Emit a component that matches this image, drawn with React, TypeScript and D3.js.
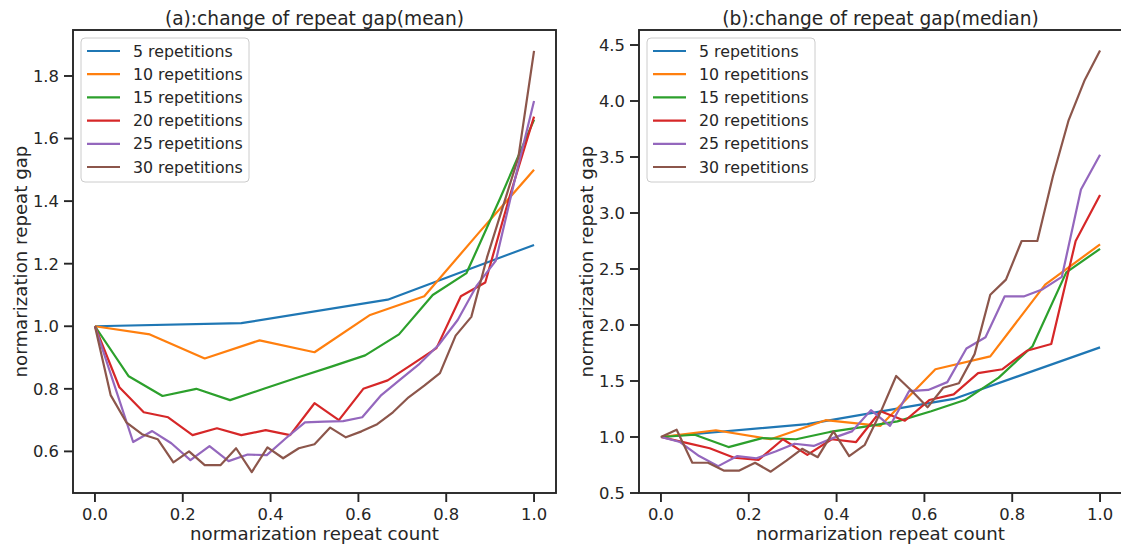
import * as d3 from "d3";
import { useEffect } from "react";

// series labels + colours (matplotlib tab10)
const seriesNames = ["5 repetitions", "10 repetitions", "15 repetitions", "20 repetitions", "25 repetitions", "30 repetitions"];
const seriesColors = ["#1f77b4", "#ff7f0e", "#2ca02c", "#d62728", "#9467bd", "#8c564b"];

// (a) mean repeat gap
const meanRep5 = [1.0, 1.01, 1.085, 1.26];
const meanRep10 = [1.0, 0.974, 0.897, 0.955, 0.917, 1.035, 1.096, 1.3, 1.5];
const meanRep15 = [1.0, 0.84, 0.777, 0.8, 0.764, 0.8, 0.836, 0.871, 0.907, 0.974, 1.1, 1.17, 1.41, 1.66];
const meanRep20 = [1.0, 0.805, 0.725, 0.709, 0.652, 0.674, 0.652, 0.668, 0.652, 0.754, 0.7, 0.8, 0.827, 0.878, 0.93, 1.096, 1.14, 1.415, 1.67];
const meanRep25 = [1.0, 0.815, 0.63, 0.665, 0.626, 0.572, 0.617, 0.569, 0.59, 0.588, 0.642, 0.693, 0.695, 0.697, 0.709, 0.78, 0.83, 0.88, 0.94, 1.02, 1.13, 1.21, 1.47, 1.72];
const meanRep30 = [1.0, 0.78, 0.693, 0.655, 0.639, 0.565, 0.6, 0.556, 0.556, 0.61, 0.534, 0.613, 0.578, 0.61, 0.623, 0.676, 0.645, 0.664, 0.687, 0.725, 0.773, 0.81, 0.85, 0.97, 1.03, 1.22, 1.38, 1.54, 1.88];

// (b) median repeat gap
const medRep5 = [1.0, 1.115, 1.34, 1.8];
const medRep10 = [1.0, 1.06, 0.98, 1.15, 1.1, 1.605, 1.72, 2.36, 2.72];
const medRep15 = [1.0, 1.02, 0.91, 0.99, 0.98, 1.045, 1.09, 1.14, 1.23, 1.33, 1.53, 1.81, 2.47, 2.68];
const medRep20 = [1.0, 0.95, 0.9, 0.815, 0.795, 0.98, 0.84, 0.98, 0.955, 1.23, 1.145, 1.33, 1.38, 1.57, 1.605, 1.77, 1.83, 2.75, 3.16];
const medRep25 = [1.0, 0.955, 0.83, 0.74, 0.83, 0.81, 0.87, 0.94, 0.92, 0.99, 1.05, 1.24, 1.1, 1.41, 1.42, 1.49, 1.79, 1.89, 2.255, 2.255, 2.32, 2.43, 3.21, 3.52];
const medRep30 = [1.0, 1.065, 0.77, 0.77, 0.7, 0.7, 0.77, 0.69, 0.79, 0.895, 0.82, 1.05, 0.83, 0.93, 1.22, 1.545, 1.41, 1.265, 1.44, 1.48, 1.74, 2.27, 2.405, 2.75, 2.75, 3.33, 3.83, 4.18, 4.45];

const xTicks = [0, 0.2, 0.4, 0.6, 0.8, 1.0];
const meanYTicks = [0.6, 0.8, 1.0, 1.2, 1.4, 1.6, 1.8];
const medYTicks = [0.5, 1.0, 1.5, 2.0, 2.5, 3.0, 3.5, 4.0, 4.5];

const FONT = "DejaVu Sans, sans-serif";

// x is the normalized repeat count: index / (points - 1)
function toPoints(values) {
  return values.map((v, i) => [i / (values.length - 1), v]);
}

function Panel({ left, right, top, bottom, yDomain, yTicks, title, series }) {
  const x = d3.scaleLinear().domain([-0.05, 1.05]).range([left, right]);
  const y = d3.scaleLinear().domain(yDomain).range([bottom, top]);
  const line = d3
    .line()
    .x((d) => x(d[0]))
    .y((d) => y(d[1]));
  const fmt = d3.format(".1f");
  const rowH = 23.2;

  return (
    <g fontFamily={FONT} fill="#262626">
      <text x={(left + right) / 2} y={24.5} textAnchor="middle" fontSize={18.6}>
        {title}
      </text>

      <g clipPath={undefined}>
        {series.map((vals, k) => (
          <path
            key={seriesNames[k]}
            d={line(toPoints(vals))}
            fill="none"
            stroke={seriesColors[k]}
            strokeWidth={2.2}
            strokeLinejoin="round"
          />
        ))}
      </g>

      {/* x axis */}
      {xTicks.map((t) => (
        <g key={`x${t}`}>
          <line x1={x(t)} x2={x(t)} y1={bottom} y2={bottom + 9} stroke="#262626" strokeWidth={1.9} />
          <text x={x(t)} y={520} textAnchor="middle" fontSize={16.4}>
            {fmt(t)}
          </text>
        </g>
      ))}
      <text x={(left + right) / 2} y={540} textAnchor="middle" fontSize={18.2}>
        normarization repeat count
      </text>

      {/* y axis */}
      {yTicks.map((t) => (
        <g key={`y${t}`}>
          <line x1={left - 9} x2={left} y1={y(t)} y2={y(t)} stroke="#262626" strokeWidth={1.9} />
          <text x={left - 14} y={y(t)} dy="0.36em" textAnchor="end" fontSize={16.4}>
            {fmt(t)}
          </text>
        </g>
      ))}
      <text
        transform={`translate(${left - 46},${(top + bottom) / 2}) rotate(-90)`}
        textAnchor="middle"
        fontSize={18.2}
      >
        normarization repeat gap
      </text>

      <rect x={left} y={top} width={right - left} height={bottom - top} fill="none" stroke="#262626" strokeWidth={1.9} />

      {/* legend */}
      <g>
        <rect x={left + 8} y={top + 8} width={168} height={144} rx={4} fill="#ffffff" fillOpacity={0.8} stroke="#cccccc" strokeWidth={1} />
        {seriesNames.map((name, k) => {
          const ry = top + 21 + k * rowH;
          return (
            <g key={name}>
              <line x1={left + 14} x2={left + 47} y1={ry} y2={ry} stroke={seriesColors[k]} strokeWidth={2.2} />
              <text x={left + 60} y={ry} dy="0.36em" fontSize={15.8}>
                {name}
              </text>
            </g>
          );
        })}
      </g>
    </g>
  );
}

export default function App() {
  useEffect(() => {
    document.body.style.margin = "0";
  }, []);

  return (
    <svg width={1121} height={546} style={{ display: "block", background: "#ffffff" }}>
      <Panel
        left={73}
        right={556}
        top={30}
        bottom={493}
        yDomain={[0.467, 1.947]}
        yTicks={meanYTicks}
        title="(a):change of repeat gap(mean)"
        series={[meanRep5, meanRep10, meanRep15, meanRep20, meanRep25, meanRep30]}
      />
      <Panel
        left={639}
        right={1122}
        top={30}
        bottom={493}
        yDomain={[0.5, 4.634]}
        yTicks={medYTicks}
        title="(b):change of repeat gap(median)"
        series={[medRep5, medRep10, medRep15, medRep20, medRep25, medRep30]}
      />
    </svg>
  );
}
